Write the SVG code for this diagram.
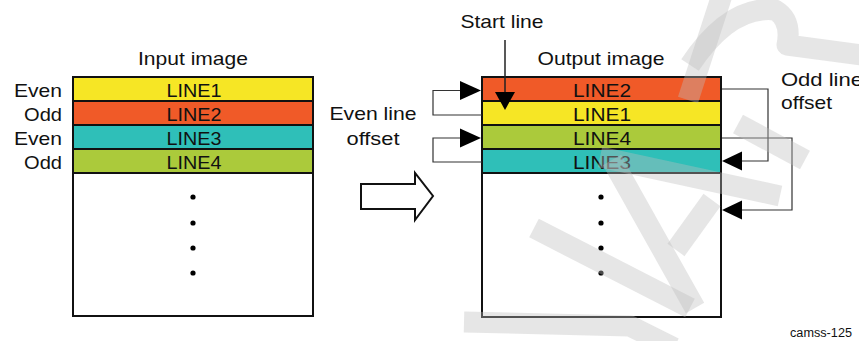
<svg xmlns="http://www.w3.org/2000/svg" width="859" height="341" viewBox="0 0 859 341">
<style>
text{font-family:"Liberation Sans",Arial,sans-serif;fill:#111}
.t{font-size:18.5px}
.c{text-anchor:middle}
.r{text-anchor:end}
.box{fill:#fff;stroke:#111;stroke-width:2}
.row{stroke:#111;stroke-width:2}
.y{fill:#f6e625}.o{fill:#f05a28}.g{fill:#abca3b}.b{fill:#2fbfb8}
.ln{fill:none;stroke:#333;stroke-width:1.2}
.ah{fill:#000}
.dot{fill:#000}
.wm{fill:none;stroke:#bcbcbc;stroke-opacity:0.38;stroke-width:21;stroke-linejoin:round}
</style>
<rect width="859" height="341" fill="#fff"/>

<g id="input-image">
<text class="t c" x="193" y="65" textLength="110" lengthAdjust="spacingAndGlyphs">Input image</text>
<rect class="box" x="73" y="77" width="240" height="239"/>
<rect class="row y" x="73" y="77" width="240" height="24"/>
<rect class="row o" x="73" y="101" width="240" height="24"/>
<rect class="row b" x="73" y="125" width="240" height="24"/>
<rect class="row g" x="73" y="149" width="240" height="24"/>
<text class="t c" x="194" y="97" textLength="55" lengthAdjust="spacingAndGlyphs">LINE1</text>
<text class="t c" x="194" y="121" textLength="55" lengthAdjust="spacingAndGlyphs">LINE2</text>
<text class="t c" x="194" y="145" textLength="55" lengthAdjust="spacingAndGlyphs">LINE3</text>
<text class="t c" x="194" y="169" textLength="55" lengthAdjust="spacingAndGlyphs">LINE4</text>
<text class="t r" x="62" y="97" textLength="48" lengthAdjust="spacingAndGlyphs">Even</text>
<text class="t r" x="62" y="121" textLength="38" lengthAdjust="spacingAndGlyphs">Odd</text>
<text class="t r" x="62" y="145" textLength="48" lengthAdjust="spacingAndGlyphs">Even</text>
<text class="t r" x="62" y="169" textLength="38" lengthAdjust="spacingAndGlyphs">Odd</text>
<circle class="dot" cx="193" cy="197" r="2.6"/>
<circle class="dot" cx="193" cy="223" r="2.6"/>
<circle class="dot" cx="193" cy="248" r="2.6"/>
<circle class="dot" cx="193" cy="273" r="2.6"/>
</g>

<g id="transform-arrow">
<polygon points="361,184 415,184 415,173 433,196 415,220 415,209 361,209" fill="#fff" stroke="#111" stroke-width="2" stroke-linejoin="miter"/>
</g>

<g id="output-image">
<text class="t c" x="601" y="65" textLength="127" lengthAdjust="spacingAndGlyphs">Output image</text>
<rect class="box" x="482" y="77" width="239" height="240"/>
<rect class="row o" x="482" y="77" width="239" height="24"/>
<rect class="row y" x="482" y="101" width="239" height="24"/>
<rect class="row g" x="482" y="125" width="239" height="24"/>
<rect class="row b" x="482" y="149" width="239" height="24"/>
<text class="t c" x="602" y="97" textLength="58" lengthAdjust="spacingAndGlyphs">LINE2</text>
<text class="t c" x="602" y="121" textLength="58" lengthAdjust="spacingAndGlyphs">LINE1</text>
<text class="t c" x="602" y="145" textLength="58" lengthAdjust="spacingAndGlyphs">LINE4</text>
<text class="t c" x="602" y="169" textLength="58" lengthAdjust="spacingAndGlyphs">LINE3</text>
<circle class="dot" cx="601" cy="197" r="2.6"/>
<circle class="dot" cx="601" cy="223" r="2.6"/>
<circle class="dot" cx="601" cy="248" r="2.6"/>
<circle class="dot" cx="601" cy="273" r="2.6"/>
</g>

<g id="start-line-label">
<text class="t c" x="502" y="28" textLength="83" lengthAdjust="spacingAndGlyphs">Start line</text>
</g>
<g id="even-line-offset-label">
<text class="t c" x="373" y="120" textLength="87" lengthAdjust="spacingAndGlyphs">Even line</text>
<text class="t c" x="373" y="145" textLength="53" lengthAdjust="spacingAndGlyphs">offset</text>
</g>
<g id="odd-line-offset-label">
<text class="t" x="781" y="86" textLength="82" lengthAdjust="spacingAndGlyphs">Odd line</text>
<text class="t" x="781" y="109" textLength="51" lengthAdjust="spacingAndGlyphs">offset</text>
</g>

<g id="connectors">
<line x1="505" y1="40" x2="505" y2="93" stroke="#222" stroke-width="1.5"/>
<polygon class="ah" points="495,92 515,92 505,110"/>
<polyline class="ln" points="482,115 433,115 433,90.5 462,90.5"/>
<polygon class="ah" points="460,81 460,100 481,90.5"/>
<polyline class="ln" points="482,162 433,162 433,138 462,138"/>
<polygon class="ah" points="460,128.5 460,147.5 481,138"/>
<polyline class="ln" points="722,89 768,89 768,161 740,161"/>
<polygon class="ah" points="742,151.5 742,170.5 722,161"/>
<polyline class="ln" points="722,138 792,138 792,210 740,210"/>
<polygon class="ah" points="742,200.5 742,219.5 722,210"/>
</g>

<g id="figure-id">
<text x="852" y="337" style="font-size:12.5px;text-anchor:end" textLength="62" lengthAdjust="spacingAndGlyphs">camss-125</text>
</g>

<g id="watermark">
<path class="wm" d="M464,322 L630,326 L674,348"/>
<path class="wm" d="M534,228 L690,308"/>
<path class="wm" d="M612,160 L695,308"/>
<path class="wm" d="M600,157 L780,196"/>
<path class="wm" d="M676,250 L712,200"/>
<path class="wm" d="M738,124 L805,160"/>
<path class="wm" d="M722,-5 L688,100"/>
<path class="wm" d="M690,65 Q730,5 775,10 Q792,20 787,45 L862,55"/>
</g>
</svg>
